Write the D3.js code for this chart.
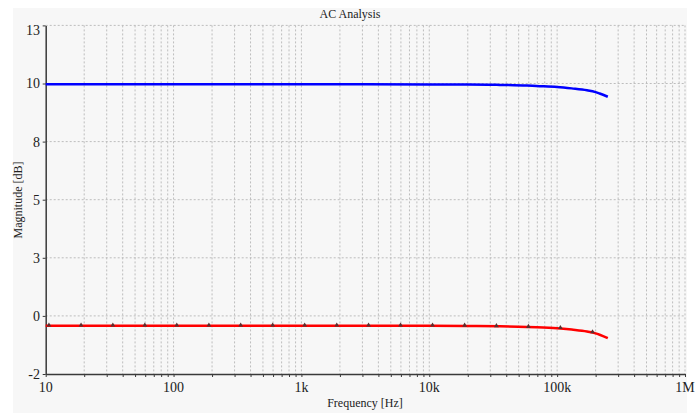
<!DOCTYPE html>
<html>
<head>
    <style>
        body { margin: 0; background: #fff; }
        text { font-family: "Liberation Serif", "Times New Roman", serif; fill: #222; }
        .grid line { stroke: #bdbdbd; stroke-width: 1; stroke-dasharray: 2, 2; }
        .axis line, .axis path { stroke: #3a3a3a; }
    </style>
</head>
<body>
    <svg class="main"></svg>
    <script src="https://d3js.org/d3.v7.min.js"></script>
    <script>
        // frequency points of the sweep [Hz]
        var freqs = [10, 100, 1000, 10000, 20000, 35600, 58000, 69000, 100000, 130000, 171000, 200000, 215000, 249000];
        // magnitude of the two traces [dB]
        var blueDb = [10.47, 10.47, 10.47, 10.46, 10.46, 10.44, 10.41, 10.39, 10.35, 10.29, 10.21, 10.13, 10.07, 9.93];
        var redDb = [0.08, 0.08, 0.08, 0.08, 0.07, 0.05, 0.02, 0.01, -0.03, -0.09, -0.17, -0.25, -0.31, -0.46];

        // triangle markers on the red trace
        var markerFreqs = [10.6, 18.9, 33.5, 59.6, 106, 189, 335, 596, 1060, 1890, 3350, 5960, 10600, 18900, 33500, 59600, 106000, 189000];
        var markerDb = [0.08, 0.08, 0.08, 0.08, 0.08, 0.08, 0.08, 0.08, 0.08, 0.08, 0.08, 0.08, 0.08, 0.07, 0.05, 0.02, -0.03, -0.21];

        // axis ticks
        var yTicks = [-2, 0.5, 3, 5.5, 8, 10.5, 13];
        var yTickLabels = ['-2', '0', '3', '5', '8', '10', '13'];
        var xTicks = [10, 100, 1000, 10000, 100000, 1000000];
        var xTickLabels = ['10', '100', '1k', '10k', '100k', '1M'];

        var width = 696;
        var height = 413;

        var svg = d3.select('svg')
            .attr('width', width)
            .attr('height', height);

        // light panel behind everything
        svg.append('rect')
            .attr('x', 13).attr('y', 8)
            .attr('width', 674).attr('height', 405)
            .attr('fill', '#f7f7f7');

        var x = d3.scaleLog().domain([10, 1e6]).range([45.7, 685]);
        var y = d3.scaleLinear().domain([-2, 13]).range([374, 25.4]);

        // minor ticks of the log axis (all 1..9 multiples)
        var minor = [];
        for (var d = 10; d < 1e6; d *= 10) {
            for (var k = 1; k < 10; k++) minor.push(d * k);
        }
        minor.push(1e6);

        // grid
        var grid = svg.append('g').attr('class', 'grid');
        grid.selectAll('line.v')
            .data(minor.slice(1))
            .join('line')
            .attr('x1', function (d) { return x(d); })
            .attr('x2', function (d) { return x(d); })
            .attr('y1', y(13)).attr('y2', y(-2));
        grid.selectAll('line.h')
            .data(yTicks.slice(1))
            .join('line')
            .attr('class', 'h')
            .attr('x1', x(10)).attr('x2', x(1e6))
            .attr('y1', function (d) { return y(d); })
            .attr('y2', function (d) { return y(d); });

        // bottom axis
        var xAxis = svg.append('g')
            .attr('class', 'axis')
            .attr('transform', 'translate(0,' + y(-2) + ')')
            .call(d3.axisBottom(x).tickValues(minor).tickSize(3).tickSizeOuter(0).tickFormat(''));
        xAxis.select('.domain').attr('stroke-width', 1.5);
        svg.append('g')
            .selectAll('text')
            .data(xTicks)
            .join('text')
            .attr('x', function (d) { return x(d); })
            .attr('y', 392)
            .attr('text-anchor', 'middle')
            .attr('font-size', 14)
            .text(function (d, i) { return xTickLabels[i]; });

        // left axis
        var yAxis = svg.append('g')
            .attr('class', 'axis')
            .attr('transform', 'translate(' + x(10) + ',0)')
            .call(d3.axisLeft(y).tickValues(yTicks).tickSize(3).tickSizeOuter(0).tickFormat(''));
        yAxis.select('.domain').attr('stroke-width', 1.5);
        svg.append('g')
            .selectAll('text')
            .data(yTicks)
            .join('text')
            .attr('x', 40)
            .attr('y', function (d) { return y(d); })
            .attr('dy', function (d) { return d === 13 ? '0.7em' : '0.35em'; })
            .attr('text-anchor', 'end')
            .attr('font-size', 14)
            .text(function (d, i) { return yTickLabels[i]; });

        // titles
        svg.append('text')
            .attr('x', 350).attr('y', 18)
            .attr('text-anchor', 'middle')
            .attr('font-size', 12)
            .text('AC Analysis');
        svg.append('text')
            .attr('x', 365).attr('y', 407)
            .attr('text-anchor', 'middle')
            .attr('font-size', 12)
            .text('Frequency [Hz]');
        svg.append('text')
            .attr('transform', 'translate(22,200) rotate(-90)')
            .attr('text-anchor', 'middle')
            .attr('font-size', 12)
            .text('Magnitude [dB]');

        // traces
        var line = d3.line()
            .curve(d3.curveMonotoneX)
            .x(function (d) { return x(d[0]); })
            .y(function (d) { return y(d[1]); });

        svg.append('path')
            .datum(d3.zip(freqs, blueDb))
            .attr('d', line)
            .attr('fill', 'none')
            .attr('stroke', '#0000ff')
            .attr('stroke-width', 2.5);

        svg.append('path')
            .datum(d3.zip(freqs, redDb))
            .attr('d', line)
            .attr('fill', 'none')
            .attr('stroke', '#ff0000')
            .attr('stroke-width', 2.5);

        var tri = d3.symbol().type(d3.symbolTriangle).size(10);
        svg.append('g')
            .selectAll('path')
            .data(d3.zip(markerFreqs, markerDb))
            .join('path')
            .attr('transform', function (d) { return 'translate(' + x(d[0]) + ',' + (y(d[1]) - 0.5) + ')'; })
            .attr('d', tri)
            .attr('fill', '#5a3030');
    </script>
</body>
</html>
